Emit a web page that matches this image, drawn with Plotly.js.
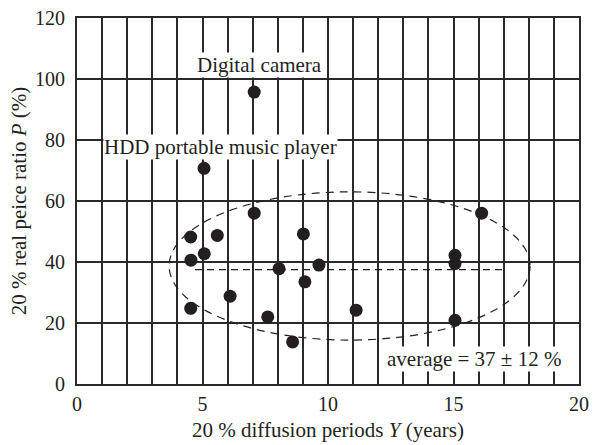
<!DOCTYPE html>
<html>
<head>
<meta charset="utf-8">
<script src="https://cdn.plot.ly/plotly-3.0.1.min.js"></script>
<style>html,body{margin:0;padding:0;background:#fff;}#chart{width:597px;height:445px;}</style>
</head>
<body>
<div id="chart"></div>
<script>
// Data
const diffusionYears = [7.06, 5.06, 7.06, 4.53, 5.59, 4.54, 5.07, 8.05, 6.1, 4.53, 7.6, 8.59, 9.02, 9.64, 9.08, 11.12, 15.06, 15.06, 15.06, 16.12];
const priceRatio     = [95.7, 70.7, 56.0, 48.2, 48.7, 40.6, 42.7, 37.8, 28.8, 24.8, 22.0, 13.8, 49.2, 39.0, 33.5, 24.2, 42.2, 39.5, 20.9, 56.0];
const averageLineX = [4.7, 17.0];
const averageLineY = [37.5, 37.5];
const ellipseBounds = {x0: 3.67, x1: 18.05, y0: 14.4, y1: 63.0};
const xGridVals  = [0, 1, 2, 3, 4, 5, 6, 7, 8, 9, 10, 11, 12, 13, 14, 15, 16, 17, 18, 19, 20];
const xTickText  = ["0", "", "", "", "", "5", "", "", "", "", "10", "", "", "", "", "15", "", "", "", "", "20"];
const yTickVals = [0, 20, 40, 60, 80, 100, 120];
const labelTexts = ["Digital camera", "HDD portable music player", "average = 37 ± 12 %"];
const labelX = [7.27, 5.7, 15.8];
const labelY = [104.6, 77.8, 8.1];

const FONT = "Liberation Serif, Times New Roman, serif";
const INK = "#231f20";
const GRID = "#2a2a2a";

const traces = [
  {
    x: averageLineX, y: averageLineY, type: "scatter", mode: "lines",
    line: {color: INK, width: 1.3, dash: "7px,5px"}, hoverinfo: "skip", showlegend: false
  },
  {
    x: diffusionYears, y: priceRatio, type: "scatter", mode: "markers",
    marker: {color: INK, size: 13, symbol: "circle"}, showlegend: false
  }
];

const layout = {
  width: 597, height: 445,
  margin: {l: 77, r: 18, t: 18, b: 61, pad: 0},
  paper_bgcolor: "#fff", plot_bgcolor: "#fff",
  font: {family: FONT, size: 20, color: INK},
  showlegend: false,
  xaxis: {
    range: [0, 20], tickvals: xGridVals, ticktext: xTickText, ticks: "", showline: true, mirror: true,
    linecolor: GRID, linewidth: 2, showgrid: true, gridcolor: GRID, gridwidth: 2,
    zeroline: false, ticklabelstandoff: 1,
    tickfont: {family: FONT, size: 20, color: INK},
    title: {text: "20 % diffusion periods <i>Y</i> (years)", font: {family: FONT, size: 21, color: INK}, standoff: 8}
  },
  yaxis: {
    range: [0, 120], tickvals: yTickVals, ticks: "", showline: true, mirror: true,
    linecolor: GRID, linewidth: 2, showgrid: true, gridcolor: GRID, gridwidth: 2,
    zeroline: false, ticklabelstandoff: 6,
    tickfont: {family: FONT, size: 20, color: INK},
    title: {text: "20 % real peice ratio <i>P</i> (%)", font: {family: FONT, size: 21, color: INK}, standoff: 3}
  },
  shapes: [
    {type: "circle", xref: "x", yref: "y", x0: ellipseBounds.x0, x1: ellipseBounds.x1, y0: ellipseBounds.y0, y1: ellipseBounds.y1,
     line: {color: INK, width: 1.2, dash: "8px,6px"}, fillcolor: "rgba(0,0,0,0)", layer: "above"}
  ],
  annotations: labelTexts.map((t, i) => ({
    x: labelX[i], y: labelY[i], xref: "x", yref: "y", text: t, showarrow: false,
    bgcolor: "#fff", borderpad: 0, font: {family: FONT, size: 21, color: INK}
  }))
};

Plotly.newPlot("chart", traces, layout, {staticPlot: true, displayModeBar: false});
</script>
</body>
</html>
